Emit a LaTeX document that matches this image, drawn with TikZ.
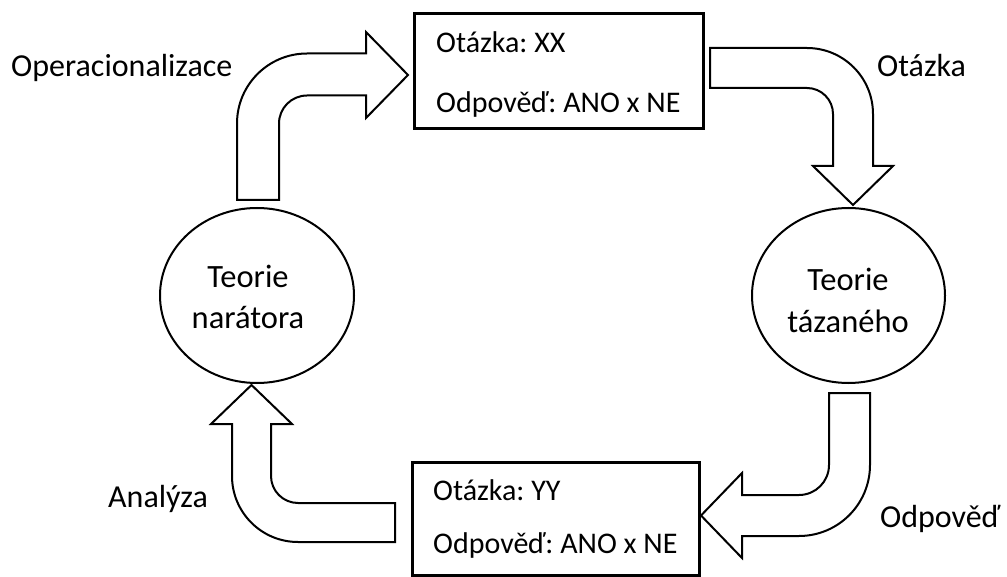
\documentclass[tikz,border=0pt]{standalone}
\usepackage{fontspec}
\setmainfont{Carlito}
\usetikzlibrary{shapes.geometric}
\frenchspacing
\tikzset{
  txt/.style={inner sep=0pt, anchor=base west, font=\fontsize{30}{36}\selectfont},
  lbl/.style={inner sep=0pt, anchor=base west, font=\fontsize{32}{38}\selectfont},
  ctxt/.style={inner sep=0pt, anchor=base, font=\fontsize{32.5}{39}\selectfont},
  qbox/.style={draw, line width=3pt, rectangle, inner sep=0pt},
  theory/.style={draw, line width=2pt, ellipse, inner sep=0pt},
  blockarrow/.style={draw, line width=2pt, fill=white, line join=miter}
}
\begin{document}
\begin{tikzpicture}[x=1pt,y=-1pt]
\useasboundingbox (0,0) rectangle (1007,577);
\fill[white] (0,0) rectangle (1007,577);
% boxes
\node[qbox, minimum width=289pt, minimum height=115pt] (topbox) at (559,71) {};
\node[qbox, minimum width=287pt, minimum height=113pt] (botbox) at (556,519) {};
\node[txt] (tq) at (436,53) {Otázka: XX};
\node[txt] (ta) at (436,113) {Odpověď: ANO x NE};
\node[txt] (bq) at (433,500) {Otázka: YY};
\node[txt] (ba) at (433,553) {Odpověď: ANO x NE};
% ellipses
\node[theory, minimum width=194pt, minimum height=175pt] (narr) at (257,295.5) {};
\node[theory, minimum width=193pt, minimum height=175pt] (resp) at (848.5,295.5) {};
\node[ctxt] (n1) at (248,288) {Teorie};
\node[ctxt] (n2) at (248,329) {narátora};
\node[ctxt] (r1) at (848,291) {Teorie};
\node[ctxt] (r2) at (848,333) {tázaného};
% labels
\node[lbl] (lop) at (11,77) {Operacionalizace};
\node[lbl] (lot) at (877,77) {Otázka};
\node[lbl] (lan) at (108,507) {Analýza};
\node[lbl] (lod) at (880,527) {Odpověď};
% block arrows
\draw[blockarrow] (237,200) -- (237,123.5) arc[start angle=180, end angle=90, radius=70pt]
  -- (366,53.5) -- (366,32) -- (408,75) -- (366,118) -- (366,95.5) -- (307,95.5)
  arc[start angle=90, end angle=180, radius=28pt] -- (279,200) -- cycle;
\draw[blockarrow] (710,48) -- (807,48) arc[start angle=90, end angle=0, radius=66pt]
  -- (873,166) -- (893,166) -- (853,205) -- (813,166) -- (833,166) -- (833,114)
  arc[start angle=0, end angle=90, radius=26pt] -- (710,88) -- cycle;
\draw[blockarrow] (870,393) -- (870,465) arc[start angle=0, end angle=-90, radius=71pt]
  -- (742,536) -- (742,558) -- (701,515.5) -- (742,473) -- (742,495) -- (799,495)
  arc[start angle=-90, end angle=0, radius=30pt] -- (829,393) -- cycle;
\draw[blockarrow] (395,503) -- (298,503) arc[start angle=-90, end angle=-180, radius=27pt]
  -- (271,424) -- (292,424) -- (251.5,385) -- (211,424) -- (232,424) -- (232,476)
  arc[start angle=180, end angle=270, radius=66pt] -- (395,542) -- cycle;
\end{tikzpicture}
\end{document}
